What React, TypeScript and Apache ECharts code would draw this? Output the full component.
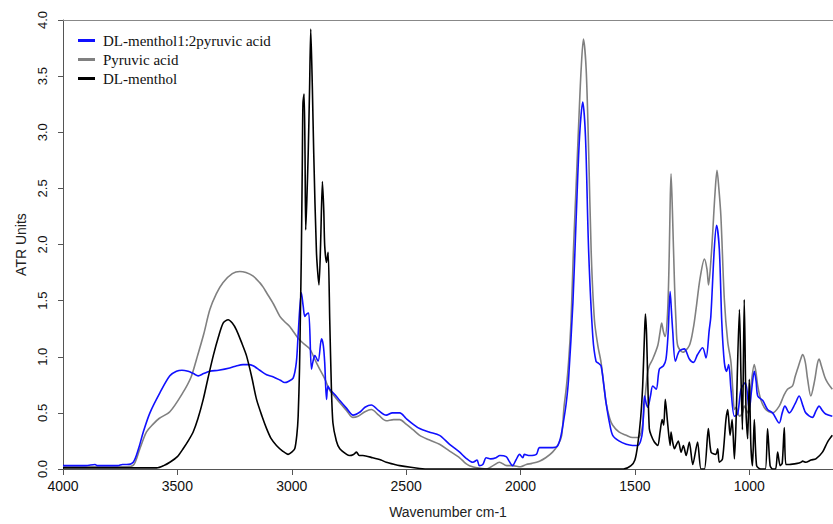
import React, { useEffect, useRef } from "react";
import * as echarts from "echarts";

// Pyruvic acid (gray)
const pyruvicWavenumbers = [
  4000, 3900, 3800, 3720, 3690, 3664, 3635, 3606, 3580, 3533, 3476, 3440, 3416, 3385, 3358, 3330, 3301, 3260, 3227, 3200,
  3170, 3140, 3125, 3110, 3080, 3052, 3030, 3009, 2995, 2974, 2950, 2921, 2900, 2878, 2855, 2834, 2810, 2790, 2760, 2734,
  2710, 2680, 2652, 2620, 2587, 2555, 2528, 2500, 2470, 2441, 2400, 2354, 2310, 2266, 2240, 2223, 2190, 2150, 2120, 2092,
  2060, 2035, 2000, 1975, 1950, 1917, 1890, 1860, 1835, 1820, 1810, 1800, 1790, 1779, 1769, 1757, 1745, 1735, 1725, 1713,
  1702, 1691, 1677, 1662, 1648, 1636, 1626, 1610, 1597, 1570, 1538, 1510, 1488, 1475, 1466, 1455, 1445, 1437, 1422, 1400,
  1390, 1383, 1375, 1368, 1357, 1350, 1346, 1342, 1336, 1327, 1320, 1313, 1291, 1262, 1245, 1233, 1215, 1196, 1185, 1178,
  1168, 1160, 1150, 1141, 1133, 1124, 1109, 1094, 1080, 1072, 1065, 1058, 1050, 1043, 1030, 1022, 1007, 993, 978, 970,
  963, 950, 928, 898, 869, 850, 833, 811, 800, 789, 775, 767, 755, 745, 731, 715, 703, 695, 685, 670, 658, 637,
];
const pyruvicValues = [
  0.02, 0.02, 0.02, 0.02, 0.04, 0.18, 0.33, 0.4, 0.45, 0.51, 0.68, 0.82, 0.98, 1.2, 1.42, 1.56, 1.66, 1.74, 1.76, 1.75,
  1.72, 1.66, 1.62, 1.57, 1.47, 1.36, 1.31, 1.27, 1.23, 1.17, 1.12, 1.07, 0.98, 0.89, 0.8, 0.7, 0.64, 0.59, 0.52, 0.46,
  0.47, 0.51, 0.53, 0.48, 0.43, 0.44, 0.44, 0.4, 0.35, 0.3, 0.26, 0.22, 0.16, 0.1, 0.05, 0.03, 0.01, 0.0, 0.03, 0.06,
  0.03, 0.03, 0.02, 0.04, 0.05, 0.07, 0.1, 0.15, 0.22, 0.3, 0.55, 0.72, 0.95, 1.33, 1.93, 2.52, 3.11, 3.56, 3.83, 3.56,
  2.82, 1.93, 1.33, 1.1, 0.95, 0.75, 0.59, 0.45, 0.39, 0.33, 0.3, 0.28, 0.28, 0.31, 0.4, 0.65, 0.85, 0.92, 0.98, 1.1,
  1.22, 1.3, 1.22, 1.18, 1.4, 1.9, 2.35, 2.63, 2.3, 1.66, 1.3, 1.1, 1.04, 1.1, 1.25, 1.42, 1.7, 1.87, 1.78, 1.64,
  1.85, 2.1, 2.45, 2.66, 2.5, 2.25, 1.51, 1.13, 0.95, 0.7, 0.53, 0.55, 0.5, 0.47, 0.5, 0.56, 0.5, 0.74, 0.93, 0.85,
  0.74, 0.62, 0.53, 0.5, 0.56, 0.65, 0.71, 0.74, 0.82, 0.89, 0.98, 1.02, 0.95, 0.8, 0.65, 0.78, 0.93, 0.98, 0.92, 0.82, 0.77, 0.71,
];

// DL-menthol 1:2 pyruvic acid (blue)
const blendWavenumbers = [
  4000, 3950, 3900, 3860, 3850, 3800, 3760, 3740, 3722, 3693, 3670, 3649, 3620, 3576, 3533, 3504, 3480, 3453, 3430, 3409,
  3385, 3358, 3320, 3271, 3240, 3213, 3190, 3169, 3140, 3110, 3080, 3050, 3031, 3015, 2994, 2980, 2972, 2958, 2950, 2943,
  2935, 2926, 2914, 2908, 2899, 2885, 2870, 2862, 2856, 2848, 2842, 2834, 2810, 2790, 2760, 2732, 2700, 2680, 2652, 2620,
  2587, 2560, 2528, 2500, 2470, 2441, 2400, 2354, 2310, 2266, 2240, 2208, 2190, 2180, 2165, 2150, 2130, 2107, 2090, 2063,
  2050, 2035, 2020, 2004, 1990, 1983, 1960, 1931, 1917, 1890, 1859, 1840, 1825, 1810, 1800, 1790, 1771, 1757, 1742, 1728,
  1716, 1702, 1684, 1670, 1658, 1648, 1636, 1626, 1610, 1597, 1570, 1538, 1510, 1488, 1475, 1466, 1458, 1450, 1444, 1432,
  1422, 1407, 1393, 1375, 1364, 1355, 1346, 1340, 1335, 1323, 1306, 1284, 1262, 1244, 1226, 1204, 1189, 1175, 1168, 1153,
  1143, 1131, 1120, 1109, 1099, 1090, 1080, 1065, 1051, 1036, 1017, 1000, 990, 978, 970, 963, 941, 920, 898, 869,
  856, 844, 825, 800, 782, 765, 753, 724, 708, 695, 680, 666, 637,
];
const blendValues = [
  0.03, 0.03, 0.03, 0.04, 0.03, 0.03, 0.03, 0.04, 0.04, 0.06, 0.18, 0.33, 0.5, 0.68, 0.83, 0.87, 0.88, 0.87, 0.85, 0.83,
  0.85, 0.87, 0.88, 0.9, 0.92, 0.93, 0.93, 0.92, 0.88, 0.84, 0.82, 0.79, 0.77, 0.78, 0.81, 0.95, 1.2, 1.57, 1.45, 1.36,
  1.38, 1.39, 0.89, 0.95, 1.01, 0.96, 1.16, 1.1, 0.95, 0.62, 0.74, 0.71, 0.66, 0.61, 0.54, 0.48, 0.51, 0.55, 0.57, 0.52,
  0.48, 0.5, 0.5, 0.45, 0.4, 0.36, 0.33, 0.3, 0.22, 0.15, 0.1, 0.06, 0.08, 0.03, 0.04, 0.1, 0.09, 0.1, 0.12, 0.11,
  0.07, 0.03, 0.08, 0.13, 0.1, 0.13, 0.12, 0.13, 0.19, 0.19, 0.19, 0.2, 0.28, 0.45, 0.59, 0.8, 1.48, 2.22, 2.96, 3.27,
  2.96, 1.93, 1.18, 0.96, 0.94, 0.92, 0.75, 0.59, 0.4, 0.3, 0.25, 0.22, 0.21, 0.21, 0.25, 0.35, 0.65, 0.58, 0.55, 0.65,
  0.74, 0.71, 0.89, 0.92, 0.98, 1.2, 1.58, 1.4, 1.24, 0.96, 1.05, 1.07, 0.98, 0.95, 1.02, 1.08, 0.99, 1.24, 1.36, 1.96,
  2.17, 1.96, 1.3, 0.95, 0.87, 0.93, 0.71, 0.47, 0.49, 0.71, 0.77, 0.53, 0.7, 0.87, 0.78, 0.65, 0.61, 0.53, 0.5, 0.41,
  0.5, 0.56, 0.5, 0.58, 0.65, 0.56, 0.5, 0.46, 0.52, 0.56, 0.52, 0.49, 0.47,
];

// DL-menthol (black)
const mentholWavenumbers = [
  4000, 3800, 3650, 3590, 3560, 3533, 3500, 3475, 3450, 3431, 3410, 3387, 3365, 3343, 3320, 3300, 3278, 3260, 3242, 3220,
  3198, 3175, 3154, 3130, 3110, 3090, 3067, 3040, 3016, 3000, 2987, 2978, 2972, 2966, 2962, 2958, 2954, 2951, 2946, 2942,
  2939, 2934, 2928, 2922, 2917, 2910, 2904, 2892, 2881, 2874, 2866, 2860, 2856, 2848, 2841, 2834, 2827, 2820, 2805, 2790,
  2760, 2747, 2730, 2717, 2705, 2689, 2646, 2610, 2587, 2550, 2528, 2480, 2441, 2400, 1550, 1517, 1500, 1488, 1475, 1466,
  1458, 1454, 1449, 1444, 1437, 1429, 1415, 1400, 1390, 1381, 1374, 1367, 1357, 1346, 1342, 1335, 1327, 1320, 1310, 1298,
  1288, 1276, 1262, 1247, 1226, 1211, 1196, 1179, 1167, 1146, 1138, 1131, 1117, 1102, 1094, 1084, 1075, 1065, 1058, 1043,
  1036, 1030, 1022, 1014, 1007, 1000, 993, 986, 978, 968, 950, 930, 920, 909, 898, 885, 876, 865, 856, 847,
  840, 825, 790, 774, 767, 753, 730, 709, 680, 658, 637,
];
const mentholValues = [
  0.01, 0.01, 0.01, 0.01, 0.03, 0.06, 0.11, 0.18, 0.26, 0.33, 0.45, 0.62, 0.82, 1.01, 1.18, 1.3, 1.33, 1.3, 1.24, 1.13,
  1.01, 0.82, 0.62, 0.47, 0.36, 0.27, 0.21, 0.16, 0.13, 0.15, 0.18, 0.3, 0.47, 0.9, 1.4, 1.93, 2.7, 3.26, 3.34, 2.8,
  2.13, 2.4, 2.82, 3.4, 3.92, 3.4, 2.82, 1.93, 1.64, 2.0, 2.56, 2.3, 1.99, 1.84, 1.93, 1.33, 0.74, 0.41, 0.25, 0.18,
  0.13, 0.12, 0.13, 0.15, 0.12, 0.12, 0.1, 0.08, 0.06, 0.04, 0.03, 0.015, 0.005, 0.0, 0.0, 0.03, 0.08, 0.21, 0.45, 0.74,
  1.2, 1.38, 1.2, 0.8, 0.36, 0.3, 0.24, 0.21, 0.33, 0.44, 0.39, 0.62, 0.41, 0.21, 0.33, 0.24, 0.18, 0.21, 0.25, 0.15,
  0.21, 0.12, 0.24, 0.04, 0.24, 0.0, 0.0, 0.36, 0.15, 0.13, 0.18, 0.06, 0.09, 0.44, 0.53, 0.3, 0.44, 0.09, 0.41, 1.42,
  0.8, 0.35, 1.51, 0.5, 0.27, 0.8, 0.21, 0.03, 0.44, 0.03, 0.0, 0.0, 0.36, 0.03, 0.0, 0.0, 0.15, 0.03, 0.05, 0.37,
  0.04, 0.04, 0.05, 0.06, 0.07, 0.06, 0.08, 0.09, 0.15, 0.24, 0.3,
];

const xTickValues = [4000, 3500, 3000, 2500, 2000, 1500, 1000];

const zip = (xs: number[], ys: number[]) => xs.map((x, i) => [x, ys[i]]);

export default function App() {
  const ref = useRef<HTMLDivElement>(null);
  useEffect(() => {
    const chart = echarts.init(ref.current!, null, { renderer: "svg" });
    const axisColor = "#555";
    chart.setOption({
      animation: false,
      backgroundColor: "#fff",
      grid: { left: 63, right: 0, top: 20, bottom: 54, containLabel: false },
      legend: {
        data: ["DL-menthol1:2pyruvic acid", "Pyruvic acid", "DL-menthol"],
        orient: "vertical",
        left: 73,
        top: 28,
        icon: "rect",
        itemWidth: 17,
        itemHeight: 3,
        itemGap: 4,
        textStyle: { fontFamily: "Liberation Serif", fontSize: 15, color: "#111", padding: [0, 0, 0, 3] },
      },
      xAxis: [
        {
          type: "value",
          min: 634,
          max: 4000,
          inverse: true,
          name: "Wavenumber cm-1",
          nameLocation: "middle",
          nameGap: 36,
          nameTextStyle: { fontFamily: "Liberation Sans", fontSize: 14, color: "#222" },
          axisLine: { show: true, onZero: false, lineStyle: { color: axisColor, width: 1 } },
          axisTick: { show: true, length: 6, customValues: xTickValues, lineStyle: { color: axisColor } },
          axisLabel: {
            customValues: xTickValues,
            fontFamily: "Liberation Sans",
            fontSize: 14,
            color: "#111",
            margin: 10,
            formatter: (v: number) => String(v),
          },
          splitLine: { show: false },
        },
        {
          type: "value",
          min: 634,
          max: 4000,
          inverse: true,
          position: "top",
          axisLine: { show: true, onZero: false, lineStyle: { color: "#888", width: 1 } },
          axisTick: { show: false },
          axisLabel: { show: false },
          splitLine: { show: false },
        },
      ],
      yAxis: {
        type: "value",
        min: 0,
        max: 4,
        interval: 0.5,
        name: "ATR Units",
        nameLocation: "middle",
        nameGap: 28,
        nameTextStyle: { fontFamily: "Liberation Sans", fontSize: 14, color: "#222" },
        axisLine: { show: true, lineStyle: { color: axisColor, width: 1 } },
        axisTick: { show: true, length: 5, lineStyle: { color: axisColor } },
        axisLabel: {
          rotate: 90,
          margin: 14,
          fontFamily: "Liberation Sans",
          fontSize: 13,
          color: "#111",
          formatter: (v: number) => v.toFixed(1),
        },
        splitLine: { show: false },
      },
      series: [
        {
          name: "Pyruvic acid",
          type: "line",
          showSymbol: false,
          smooth: 0.3,
          data: zip(pyruvicWavenumbers, pyruvicValues),
          lineStyle: { color: "#808080", width: 1.6 },
          itemStyle: { color: "#808080" },
          z: 2,
        },
        {
          name: "DL-menthol1:2pyruvic acid",
          type: "line",
          showSymbol: false,
          smooth: 0.3,
          data: zip(blendWavenumbers, blendValues),
          lineStyle: { color: "#1010ff", width: 1.6 },
          itemStyle: { color: "#1010ff" },
          z: 3,
        },
        {
          name: "DL-menthol",
          type: "line",
          showSymbol: false,
          smooth: 0.25,
          data: zip(mentholWavenumbers, mentholValues),
          lineStyle: { color: "#000", width: 1.6 },
          itemStyle: { color: "#000" },
          z: 4,
        },
      ],
    });
    return () => chart.dispose();
  }, []);
  return <div ref={ref} style={{ position: "absolute", left: 0, top: 0, width: 833, height: 524 }} />;
}
